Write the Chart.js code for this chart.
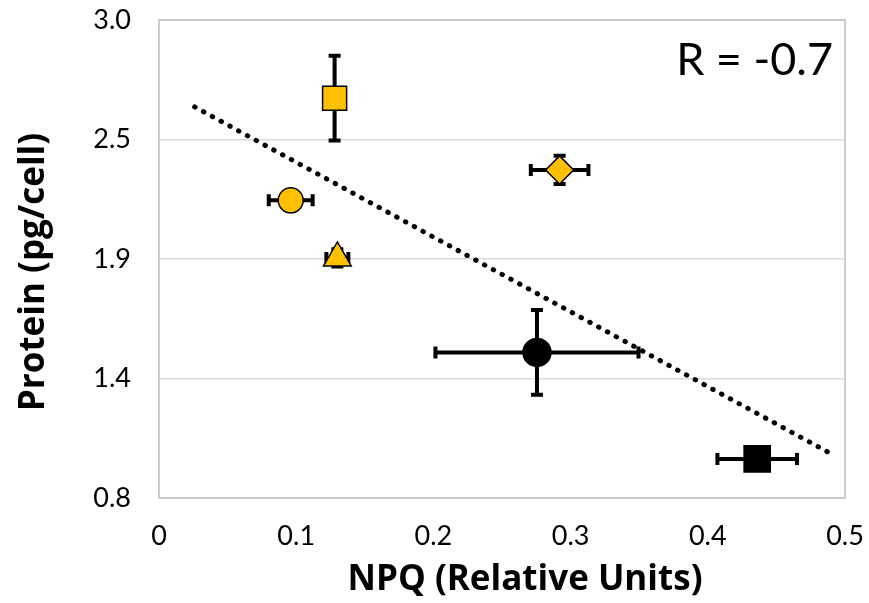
<!DOCTYPE html>
<html>
<head>
  <title>Protein vs NPQ</title>
  <script src="https://cdn.jsdelivr.net/npm/chart.js"></script>
  <style>
    body { margin: 0; background: #fff; }
    canvas { display: block; }
  </style>
</head>
<body>
  <canvas id="myChart" width="869" height="603"></canvas>
  <script>
    // values
    const npq = [0.128, 0.292, 0.096, 0.130, 0.2755, 0.436];
    const npqErr = [0.005, 0.021, 0.016, 0.008, 0.074, 0.029];
    const protein = [2.64, 2.31, 2.17, 1.905, 1.47, 0.98];
    const proteinErr = [0.195, 0.065, 0.04, 0.04, 0.195, 0.04];
    const trendX = [0.026, 0.488];
    const trendY = [2.60, 1.01];
    const xTicks = [0, 0.1, 0.2, 0.3, 0.4, 0.5];
    const xTickLabels = ['0', '0.1', '0.2', '0.3', '0.4', '0.5'];
    const yTicks = [0.8, 1.35, 1.9, 2.45, 3.0];
    const yTickLabels = ['0.8', '1.4', '1.9', '2.5', '3.0'];
    const xTitle = 'NPQ (Relative Units)';
    const yTitle = 'Protein (pg/cell)';
    const rLabel = 'R = -0.7';

    const shapes = ['rect', 'rectRot', 'circle', 'triangle', 'circle', 'rect'];
    const radii = [17, 14, 12.5, 16, 14, 18.5];
    const fills = ['#FFC000', '#FFC000', '#FFC000', '#FFC000', '#000000', '#000000'];

    const FONT = 'Lato, "Open Sans", sans-serif';
    const TITLE_FONT = 'bold 35px "Open Sans", Lato, sans-serif';

    const errorBars = {
      id: 'errorBars',
      beforeDatasetsDraw(chart) {
        const ctx = chart.ctx;
        const xs = chart.scales.x, ys = chart.scales.y;
        ctx.save();
        ctx.strokeStyle = '#000';
        ctx.lineWidth = 4;
        const cap = 6;
        for (let i = 0; i < npq.length; i++) {
          const cx = xs.getPixelForValue(npq[i]);
          const cy = ys.getPixelForValue(protein[i]);
          const x0 = xs.getPixelForValue(npq[i] - npqErr[i]);
          const x1 = xs.getPixelForValue(npq[i] + npqErr[i]);
          const y0 = ys.getPixelForValue(protein[i] - proteinErr[i]);
          const y1 = ys.getPixelForValue(protein[i] + proteinErr[i]);
          ctx.beginPath();
          ctx.moveTo(x0, cy); ctx.lineTo(x1, cy);
          ctx.moveTo(x0, cy - cap); ctx.lineTo(x0, cy + cap);
          ctx.moveTo(x1, cy - cap); ctx.lineTo(x1, cy + cap);
          ctx.moveTo(cx, y0); ctx.lineTo(cx, y1);
          ctx.moveTo(cx - cap, y0); ctx.lineTo(cx + cap, y0);
          ctx.moveTo(cx - cap, y1); ctx.lineTo(cx + cap, y1);
          ctx.stroke();
        }
        ctx.restore();
      },
      afterDraw(chart) {
        const ctx = chart.ctx;
        const a = chart.chartArea;
        ctx.save();
        ctx.strokeStyle = '#bfbfbf';
        ctx.lineWidth = 1.5;
        ctx.strokeRect(a.left, a.top, a.right - a.left, a.bottom - a.top);
        ctx.fillStyle = '#000';
        ctx.textAlign = 'center';
        ctx.textBaseline = 'middle';
        // axis titles
        ctx.font = TITLE_FONT;
        ctx.fillText(xTitle, 525, 580);
        ctx.save();
        ctx.translate(34, 272);
        ctx.rotate(-Math.PI / 2);
        ctx.fillText(yTitle, 0, 0);
        ctx.restore();
        // correlation label
        ctx.font = '45px ' + FONT;
        ctx.textAlign = 'right';
        ctx.fillText(rLabel, a.right - 12, a.top + 40);
        ctx.restore();
      }
    };

    const ctx = document.getElementById('myChart').getContext('2d');
    const chart = new Chart(ctx, {
      type: 'scatter',
      data: {
        datasets: [{
          data: npq.map((v, i) => ({ x: v, y: protein[i] })),
          pointStyle: shapes,
          pointRadius: radii,
          pointHoverRadius: radii,
          backgroundColor: fills,
          borderColor: '#000',
          borderWidth: 1.5,
          order: 1
        }, {
          type: 'line',
          data: trendX.map((v, i) => ({ x: v, y: trendY[i] })),
          borderColor: '#000',
          borderWidth: 5,
          borderDash: [0.5, 9.5],
          borderCapStyle: 'round',
          pointRadius: 0,
          fill: false,
          order: 2
        }]
      },
      options: {
        responsive: false,
        animation: false,
        layout: { padding: { top: 20, right: 24, bottom: 0, left: 0 } },
        plugins: { legend: { display: false }, tooltip: { enabled: false } },
        scales: {
          x: {
            type: 'linear',
            min: 0,
            max: 0.5,
            afterBuildTicks: s => { s.ticks = xTicks.map(v => ({ value: v })); },
            afterFit: s => { s.height = 105; s.paddingLeft = 0; s.paddingRight = 0; },
            grid: { display: false, drawTicks: false },
            border: { display: false },
            ticks: {
              padding: 22,
              color: '#000',
              font: { family: FONT, size: 27 },
              callback: (v, i) => xTickLabels[i]
            }
          },
          y: {
            type: 'linear',
            min: 0.8,
            max: 3.0,
            afterBuildTicks: s => { s.ticks = yTicks.map(v => ({ value: v })); },
            afterFit: s => { s.width = 159; s.paddingTop = 0; s.paddingBottom = 0; },
            grid: { color: '#d9d9d9', lineWidth: 1.5, drawTicks: false },
            border: { display: false },
            ticks: {
              padding: 28,
              color: '#000',
              font: { family: FONT, size: 27 },
              callback: (v, i) => yTickLabels[i]
            }
          }
        }
      },
      plugins: [errorBars]
    });
  </script>
</body>
</html>
